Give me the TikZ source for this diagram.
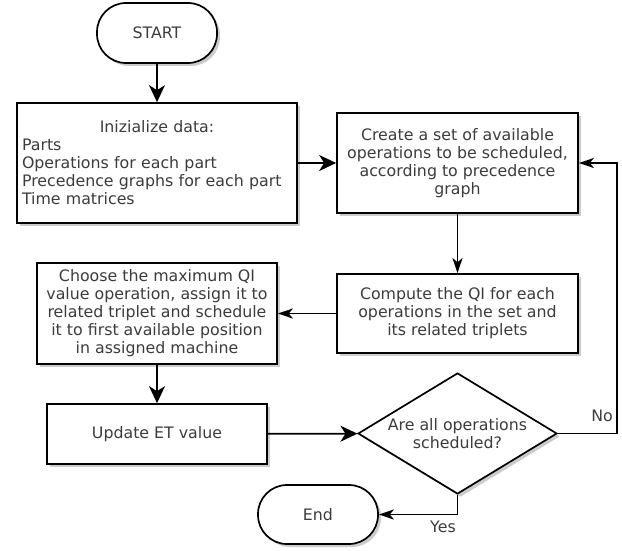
\documentclass[tikz,border=0pt]{standalone}
\usepackage{fontspec}
\setmainfont{DejaVu Sans}
\usetikzlibrary{arrows.meta,shapes.geometric,shadows,calc}
\definecolor{txt}{HTML}{3C3C3C}
\begin{document}
\begin{tikzpicture}[x=1pt,y=-1pt,
  font=\fontsize{15.8}{18}\selectfont,
  shad/.style={drop shadow={shadow xshift=3pt,shadow yshift=-3pt,fill=black,opacity=0.2}},
  box/.style={draw=black,line width=1.7pt,fill=white,shad,text=txt,align=center,inner sep=3pt},
  term/.style={box,rectangle,rounded corners=29pt,minimum width=120pt,minimum height=60pt},
  decis/.style={box,diamond,inner sep=0pt,minimum width=199pt,minimum height=121pt},
  conn/.style={line width=1.7pt,draw=black},
  bigarr/.style={conn,-{Stealth[length=17pt,width=16pt,inset=5pt]}},
  smallarr/.style={conn,-{Stealth[length=15pt,width=10pt,inset=4pt]}},
  lbl/.style={text=txt,inner sep=0pt}
]
\useasboundingbox (0,0) rectangle (622,551);

\node[term] (start) at (157,33) {START};
\node[box,minimum width=280pt,minimum height=120pt,text width=270pt,inner xsep=5pt,align=left] (init) at (157,163)
  {\rule{0pt}{6pt}\centering Inizialize data:\par\raggedright Parts\\Operations for each part\\Precedence graphs for each part\\Time matrices};
\node[box,minimum width=241pt,minimum height=100pt] (create) at (457.5,163)
  {Create a set of available\\operations to be scheduled,\\according to precedence\\graph};
\node[box,minimum width=241pt,minimum height=79pt] (compute) at (457.5,313.5)
  {Compute the QI for each\\operations in the set and\\its related triplets};
\node[box,minimum width=240pt,minimum height=101pt] (choose) at (157,313.5)
  {Choose the maximum QI\\value operation, assign it to\\related triplet and schedule\\it to first available position\\in assigned machine};
\node[box,minimum width=220pt,minimum height=60pt] (update) at (157,434) {Update ET value};
\node[decis,label={[lbl,align=center]center:Are all operations\\scheduled?}] (dec) at (457.5,433.5) {};
\node[term,minimum height=59pt] (end) at (318,514.5) {End};

\coordinate (nocorner) at (617,433.5);

\draw[bigarr] (start) -- (init);
\draw[bigarr] (init) -- (create);
\draw[smallarr] (create) -- (compute);
\draw[smallarr] (compute) -- (choose);
\draw[bigarr] (choose) -- (update);
\draw[bigarr] (update) -- (dec);
\draw[smallarr] (dec.south) |- (end.east);
\draw[smallarr] (dec.east) -- (nocorner) |- (create.east);

\node[lbl] (yes) at (443,527) {Yes};
\node[lbl] (no) at (602,416) {No};
\end{tikzpicture}
\end{document}
